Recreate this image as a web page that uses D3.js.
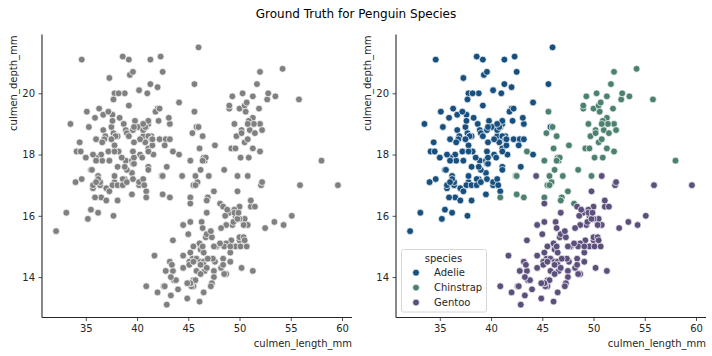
<!DOCTYPE html>
<html><head><meta charset="utf-8">
<script src="https://cdn.jsdelivr.net/npm/d3@7"></script>
<style>body{margin:0;background:#fff;} svg{display:block;font-family:"DejaVu Sans",sans-serif;}</style>
</head><body><div id="chart"></div>
<script>
const title = "Ground Truth for Penguin Species";
const xLabel = "culmen_length_mm";
const yLabel = "culmen_depth_mm";
const species = ["Adelie", "Chinstrap", "Gentoo"];
const speciesColors = ["#174f7e", "#4c8170", "#5d4f7c"];
const xTicks = [35, 40, 45, 50, 55, 60];
const yTicks = [14, 16, 18, 20];

const adelieLength = [39.1,39.5,40.3,36.7,39.3,38.9,39.2,34.1,42,37.8,37.8,41.1,38.6,34.6,36.6,38.7,42.5,34.4,46,37.8,37.7,35.9,38.2,38.8,35.3,40.6,40.5,37.9,40.5,39.5,37.2,39.5,40.9,36.4,39.2,38.8,42.2,37.6,39.8,36.5,40.8,36,44.1,37,39.6,41.1,37.5,36,42.3,39.6,40.1,35,42,34.5,41.4,39,40.6,36.5,37.6,35.7,41.3,37.6,41.1,36.4,41.6,35.5,41.1,35.9,41.8,33.5,39.7,39.6,45.8,35.5,42.8,40.9,37.2,36.2,42.1,34.6,42.9,36.7,35.1,37.3,41.3,36.3,36.9,38.3,38.9,35.7,41.1,34,39.6,36.2,40.8,38.1,40.3,33.1,43.2,35,41,37.7,37.8,37.9,39.7,38.6,38.2,38.1,43.2,38.1,45.6,39.7,42.2,39.6,42.7,38.6,37.3,35.7,41.1,36.2,37.7,40.2,41.4,35.2,40.6,38.8,41.5,39,44.1,38.5,43.1,36.8,37.5,38.1,41.1,35.6,40.2,37,39.7,40.2,40.6,32.1,40.7,37.3,39,39.2,36.6,36,37.8,36,41.5];
const adelieDepth = [18.7,17.4,18,19.3,20.6,17.8,19.6,18.1,20.2,17.1,17.3,17.6,21.2,21.1,17.8,19,20.7,18.4,21.5,18.3,18.7,19.2,18.1,17.2,18.9,18.6,17.9,18.6,18.9,16.7,18.1,17.8,18.9,17,21.1,20,18.5,19.3,19.1,18,18.4,18.5,19.7,16.9,18.8,19,18.9,17.9,21.2,17.7,18.9,17.9,19.5,18.1,18.6,17.5,18.8,16.6,19.1,16.9,21.1,17,18.2,17.1,18,16.2,19.1,16.6,19.4,19,18.4,17.2,18.9,17.5,18.5,16.8,19.4,16.1,19.1,17.2,17.6,18.8,19.4,17.8,20.3,19.5,18.6,19.2,18.8,18,18.1,17.1,18.1,17.3,18.9,18.6,18.5,16.1,18.5,17.9,20,16,20,18.6,18.9,17.2,20,17,19,16.5,20.3,17.7,19.5,20.7,18.3,17,20.5,17,18.6,17.2,19.8,17,18.5,15.9,19,17.6,18.3,17.1,18,17.9,19.2,18.5,18.5,17.6,17.5,17.5,20.1,16.5,17.9,17.1,17.2,15.5,17,16.8,18.7,18.6,18.4,17.8,18.1,17.1,18.5];
const chinstrapLength = [46.5,50,51.3,45.4,52.7,45.2,46.1,51.3,46,51.3,46.6,51.7,47,52,45.9,50.5,50.3,58,46.4,49.2,42.4,48.5,43.2,50.6,46.7,52,50.5,49.5,46.4,52.8,40.9,54.2,42.5,51,49.7,47.5,47.6,52,46.9,53.5,49,46.2,50.9,45.5,50.9,50.8,50.1,49,51.5,49.8,48.1,51.4,45.7,50.7,42.5,52.2,45.2,49.3,50.2,45.6,51.9,46.8,45.7,55.8,43.5,49.6,50.8,50.2];
const chinstrapDepth = [17.9,19.5,19.2,18.7,19.8,17.8,18.2,18.2,18.9,19.9,17.8,20.3,17.3,18.1,17.1,19.6,20,17.8,18.6,18.2,17.3,17.5,16.6,19.4,17.9,19,18.4,19,17.8,20,16.6,20.8,16.7,18.8,18.6,16.8,18.3,20.7,16.6,19.9,19.5,17.5,19.1,17,17.9,18.5,17.9,19.6,18.7,17.3,16.4,19,17.3,19.7,17.3,18.8,16.6,19.9,18.8,19.4,19.5,16.5,17,19.8,18.1,18.2,19,18.7];
const gentooLength = [46.1,50,48.7,50,47.6,46.5,45.4,46.7,43.3,46.8,40.9,49,45.5,48.4,45.8,49.3,42,49.2,46.2,48.7,50.2,45.1,46.5,46.3,42.9,46.1,44.5,47.8,48.2,50,47.3,42.8,45.1,59.6,49.1,48.4,42.6,44.4,44,48.7,42.7,49.6,45.3,49.6,50.5,43.6,45.5,50.5,44.9,45.2,46.6,48.5,45.1,50.1,46.5,45,43.8,45.5,43.2,50.4,45.3,46.2,45.7,54.3,45.8,49.8,46.2,49.5,43.5,50.7,47.7,46.4,48.2,46.5,46.4,48.6,47.5,51.1,45.2,45.2,49.1,52.5,47.4,50,44.9,50.8,43.4,51.3,47.5,52.1,47.5,52.2,45.5,49.5,44.5,50.8,49.4,46.9,48.4,51.1,48.5,55.9,47.2,49.1,47.3,46.8,41.7,53.4,43.3,48.1,50.5,49.8,43.5,51.5,46.2,55.1,44.5,48.8,47.2,46.8,50.4,45.2,49.9];
const gentooDepth = [13.2,16.3,14.1,15.2,14.5,13.5,14.6,15.3,13.4,15.4,13.7,16.1,13.7,14.6,14.6,15.7,13.5,15.2,14.5,15.1,14.3,14.5,14.5,15.8,13.1,15.1,14.3,15,14.3,15.3,15.3,14.2,14.5,17,14.8,16.3,13.7,17.3,13.6,15.7,13.7,16,13.7,15,15.9,13.9,13.9,15.9,13.3,15.8,14.2,14.1,14.4,15,14.4,15.4,13.9,15,14.5,15.3,13.8,14.9,13.9,15.7,14.2,16.8,14.4,16.2,14.2,15,15,15.6,15.6,14.8,15,16,14.2,16.3,13.8,16.4,14.5,15.6,14.6,15.9,13.8,17.3,14.4,14.2,14,17,15,17.1,14.5,16.1,14.7,15.7,15.8,14.6,14.4,16.5,15,17,15.5,15,13.8,16.1,14.7,15.8,14,15.1,15.2,15.9,15.2,16.3,14.1,16,15.7,16.2,13.7,14.3,15.7,14.8,16.1];

const lengths = [adelieLength, chinstrapLength, gentooLength];
const depths = [adelieDepth, chinstrapDepth, gentooDepth];
const rows = [];
species.forEach((s, i) => lengths[i].forEach((v, j) => rows.push({species: s, x: v, y: depths[i][j]})));

const W = 712, H = 356;
const svg = d3.select("#chart").append("svg").attr("width", W).attr("height", H);
svg.append("text").attr("x", 356).attr("y", 17.5).attr("text-anchor", "middle")
  .attr("font-size", 12).attr("fill", "#000").text(title);

const xExt = d3.extent(rows, d => d.x), yExt = d3.extent(rows, d => d.y);
const xm = (xExt[1] - xExt[0]) * 0.05, ym = (yExt[1] - yExt[0]) * 0.05;
const color = d3.scaleOrdinal().domain(species).range(speciesColors);

function panel(left, colored) {
  const top = 34.5, bottom = 317.5, width = 310;
  const x = d3.scaleLinear().domain([xExt[0] - xm, xExt[1] + xm]).range([left, left + width]);
  const y = d3.scaleLinear().domain([yExt[0] - ym, yExt[1] + ym]).range([bottom, top]);
  const g = svg.append("g");
  g.append("g").selectAll("circle").data(rows).join("circle")
    .attr("cx", d => x(d.x)).attr("cy", d => y(d.y)).attr("r", 3.4)
    .attr("fill", d => colored ? color(d.species) : "#808080")
    .attr("stroke", "#fff").attr("stroke-width", 0.7);
  const xa = g.append("g").attr("transform", `translate(0,${bottom})`)
    .call(d3.axisBottom(x).tickValues(xTicks).tickSize(3.5).tickPadding(3.5));
  const ya = g.append("g").attr("transform", `translate(${left},0)`)
    .call(d3.axisLeft(y).tickValues(yTicks).tickSize(3.5).tickPadding(3.5));
  [xa, ya].forEach(a => {
    a.select(".domain").attr("stroke", "#262626").attr("stroke-width", 1.1);
    a.selectAll(".tick line").attr("stroke", "#262626").attr("stroke-width", 0.8);
    a.selectAll(".tick text").attr("font-size", 10).attr("fill", "#262626")
      .attr("font-family", "DejaVu Sans");
  });
  ya.select(".domain").attr("d", `M0,${bottom}V${top}`);
  xa.select(".domain").attr("d", `M${left},0H${left + width}`);
  g.append("text").attr("x", left + width).attr("y", 347).attr("text-anchor", "end")
    .attr("font-size", 10).attr("fill", "#262626").text(xLabel);
  g.append("text").attr("transform", `translate(${left - 25.5},${top + 1}) rotate(-90)`)
    .attr("text-anchor", "end").attr("font-size", 10).attr("fill", "#262626").text(yLabel);
  if (colored) {
    const lg = g.append("g");
    lg.append("rect").attr("x", 401.5).attr("y", 249.5).attr("width", 85).attr("height", 62.5)
      .attr("rx", 2).attr("fill", "#fff").attr("fill-opacity", 0.8).attr("stroke", "#d6d6d6");
    lg.append("text").attr("x", 443.5).attr("y", 261.5).attr("text-anchor", "middle")
      .attr("font-size", 10).attr("fill", "#262626").text("species");
    species.forEach((s, i) => {
      const cy = 272.7 + i * 14.9;
      lg.append("circle").attr("cx", 416).attr("cy", cy).attr("r", 3.4)
        .attr("fill", color(s)).attr("stroke", "#fff").attr("stroke-width", 0.7);
      lg.append("text").attr("x", 434).attr("y", cy + 3.6).attr("font-size", 10)
        .attr("fill", "#262626").text(s);
    });
  }
}
panel(42, false);
panel(396, true);
</script></body></html>
